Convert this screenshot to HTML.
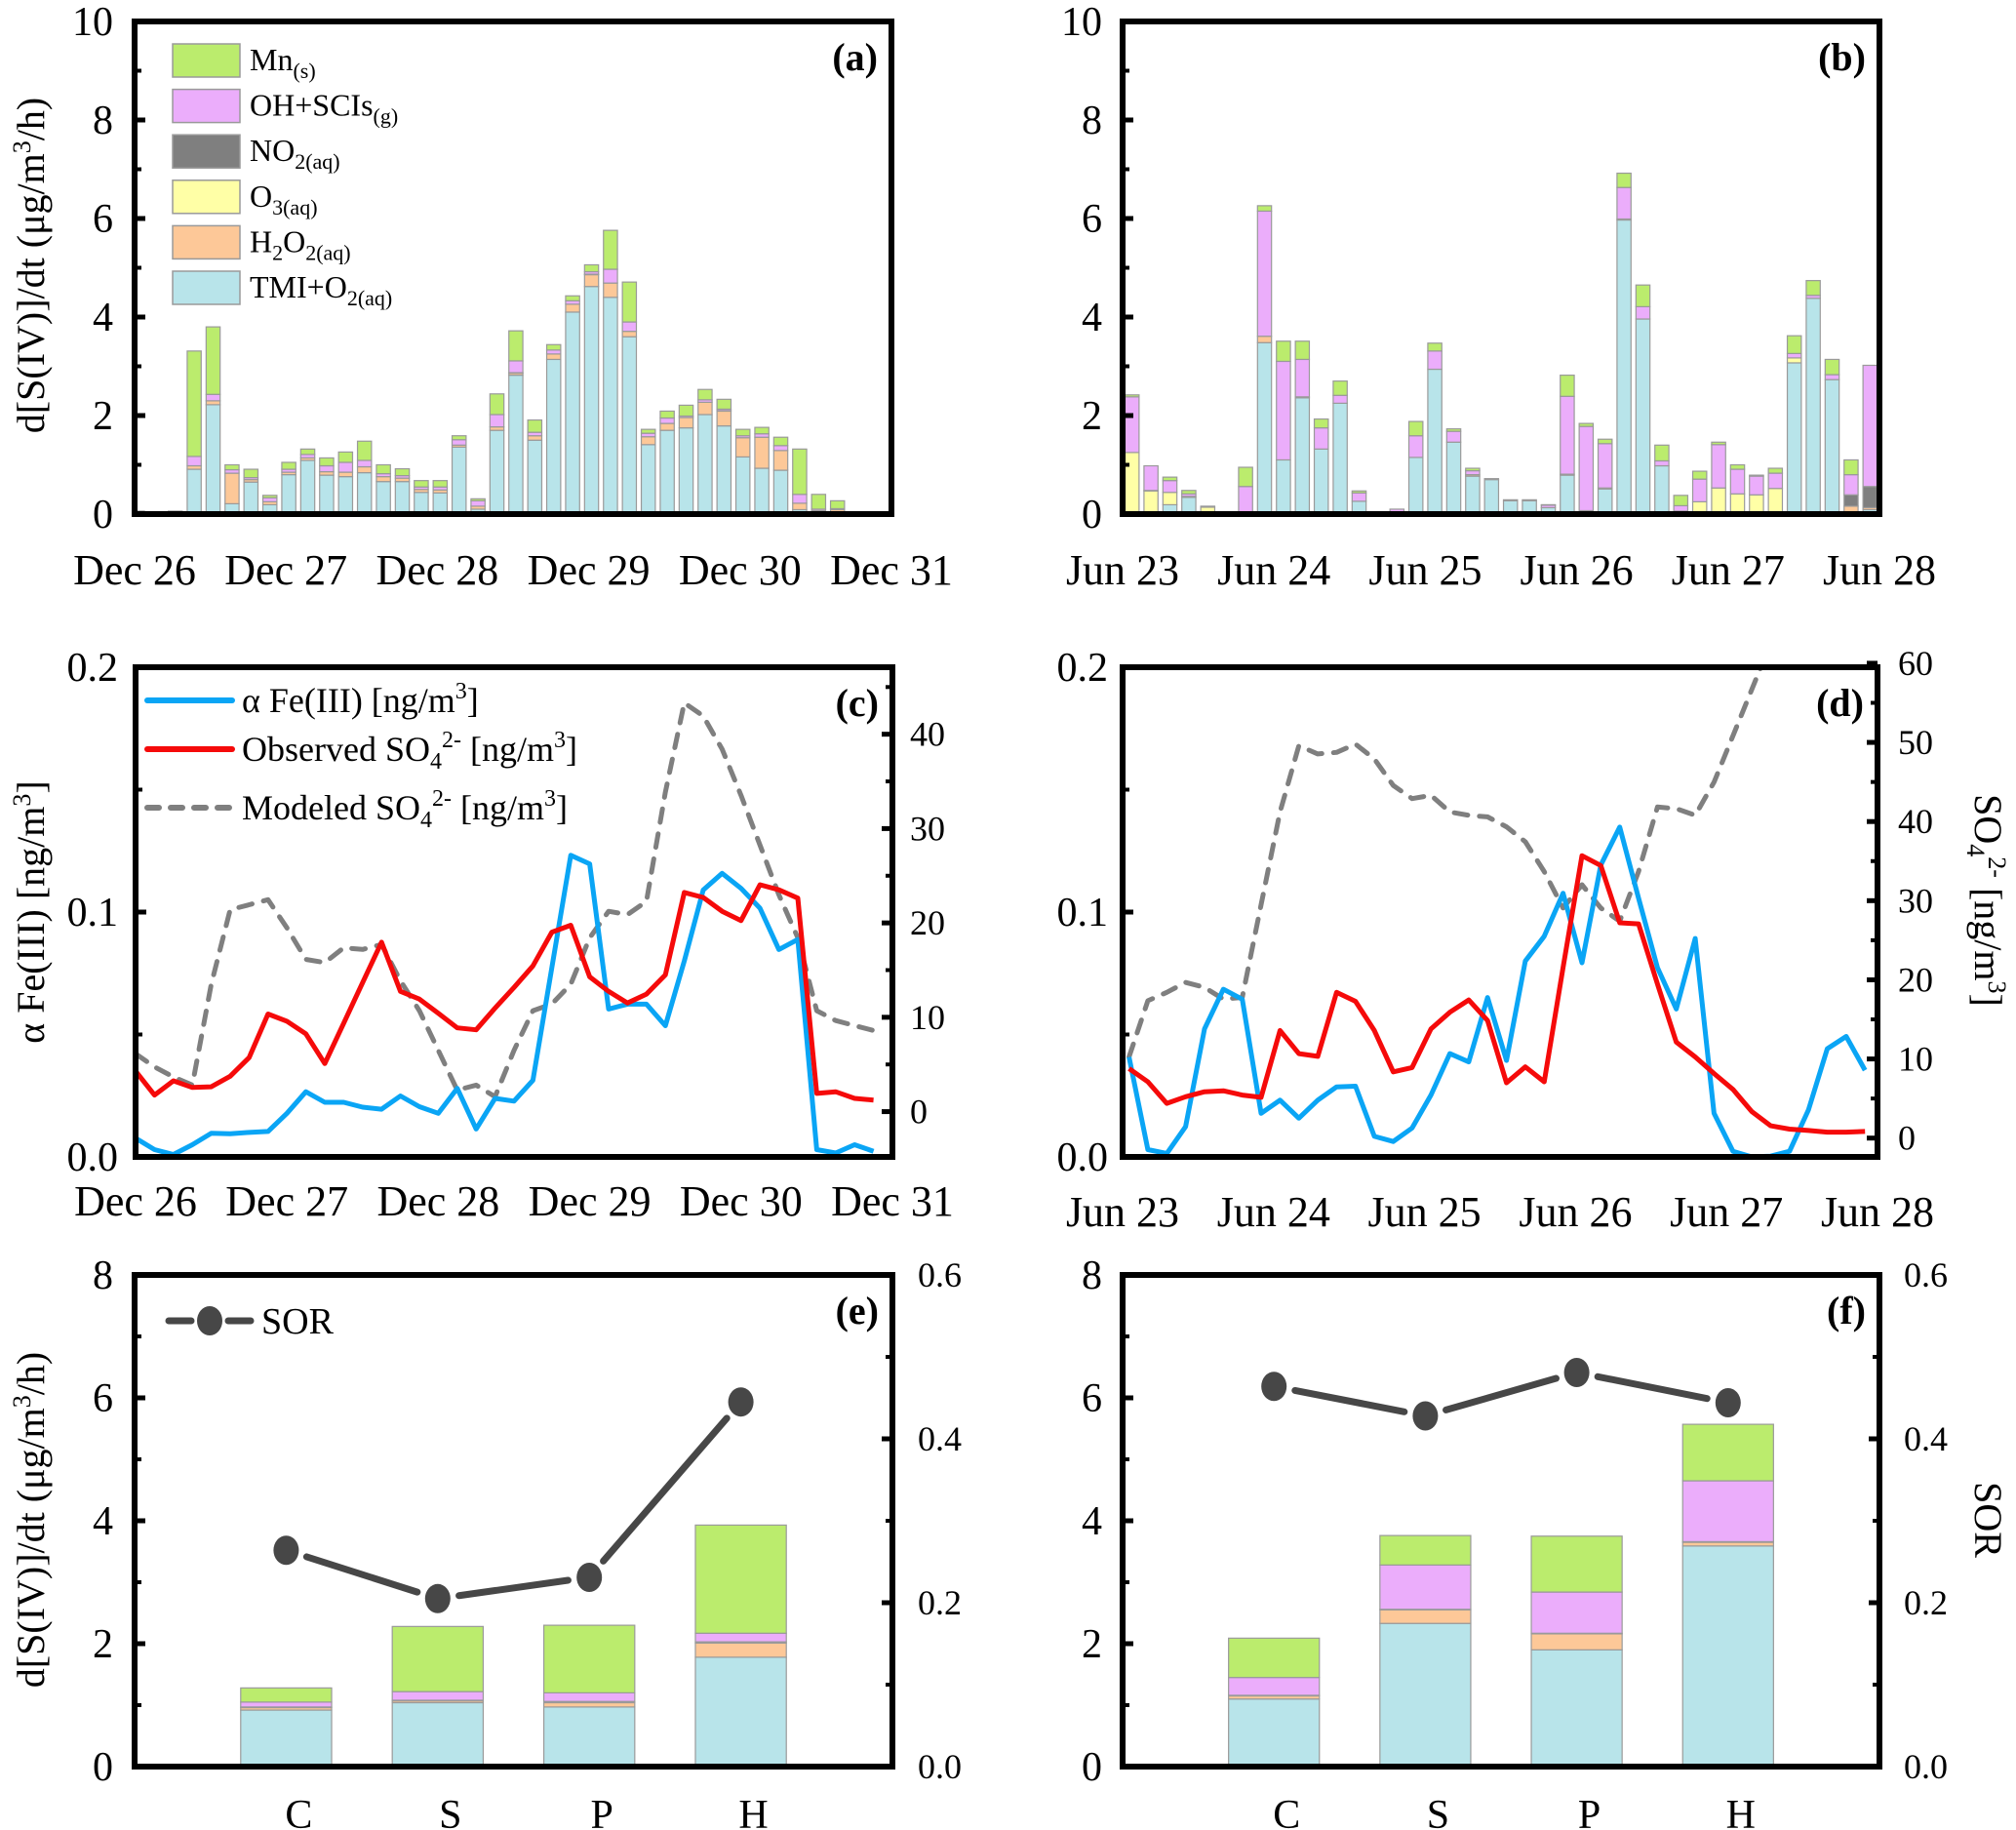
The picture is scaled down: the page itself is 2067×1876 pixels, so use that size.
<!DOCTYPE html>
<html><head><meta charset="utf-8"><style>
html,body{margin:0;padding:0;background:#fff;}
svg{display:block;font-family:"Liberation Serif",serif;}
</style></head><body>
<svg id="fig" width="2067" height="1876" viewBox="0 0 2067 1876" xmlns="http://www.w3.org/2000/svg"></svg>
<script>
// ===== Data =====
const speciesNames = ["TMI+O2(aq)","H2O2(aq)","O3(aq)","NO2(aq)","OH+SCIs(g)","Mn(s)"];
const speciesColors = ["#b8e4ea","#fdc898","#ffffa6","#7f7f7f","#ebadfb","#bbec6d"];
const decLabels = ["Dec 26","Dec 27","Dec 28","Dec 29","Dec 30","Dec 31"];
const junLabels = ["Jun 23","Jun 24","Jun 25","Jun 26","Jun 27","Jun 28"];
// panel a
const tmiA = [0.02,0.01,0.01,0.91,2.22,0.21,0.65,0.19,0.8,1.09,0.79,0.76,0.84,0.66,0.66,0.44,0.43,1.36,0.1,1.7,2.82,1.5,3.14,4.1,4.62,4.4,3.6,1.41,1.7,1.75,2.02,1.79,1.16,0.93,0.89,0.09,0.04,0.02,0.01,0.01];
const h2o2A = [0.01,0,0,0.07,0.08,0.62,0.05,0.06,0.05,0.05,0.07,0.09,0.12,0.1,0.07,0.06,0.06,0.04,0.06,0.07,0.04,0.09,0.11,0.16,0.24,0.29,0.11,0.16,0.14,0.21,0.25,0.3,0.39,0.63,0.4,0.13,0.03,0.07,0,0];
const o3A = [0,0,0,0,0,0,0,0,0,0,0,0,0,0,0,0,0,0,0,0,0,0,0,0,0,0,0,0,0,0,0,0,0,0,0,0,0,0,0,0];
const no2A = [0.01,0.01,0,0,0,0,0,0,0,0,0,0,0,0,0,0,0,0,0,0,0.01,0,0,0,0.01,0,0,0,0,0,0,0.01,0,0,0,0,0,0,0.01,0.01];
const ohA = [0.01,0.01,0.05,0.19,0.13,0.07,0.04,0.08,0.06,0.07,0.12,0.2,0.13,0.06,0.05,0.05,0.06,0.11,0.11,0.25,0.24,0.07,0.08,0.07,0.05,0.28,0.19,0.07,0.11,0.03,0.05,0.03,0.04,0.07,0.1,0.18,0.03,0.02,0,0];
const mnA = [0.01,0,0,2.14,1.37,0.1,0.17,0.05,0.14,0.11,0.16,0.21,0.39,0.18,0.14,0.13,0.13,0.08,0.04,0.42,0.61,0.25,0.11,0.1,0.14,0.79,0.81,0.08,0.14,0.22,0.21,0.2,0.13,0.13,0.17,0.92,0.3,0.16,0,0];
// panel b
const tmiB = [0,0,0.19,0.34,0,0,0,3.48,1.1,2.36,1.32,2.25,0.26,0,0,1.15,2.94,1.46,0.77,0.7,0.27,0.27,0.13,0.79,0,0.51,5.97,3.96,0.98,0.04,0,0,0,0.04,0,3.07,4.38,2.73,0.02,0.09];
const h2o2B = [0,0,0,0,0,0,0.04,0.13,0,0,0,0,0,0,0,0,0,0,0.03,0,0,0,0,0.02,0.07,0.02,0,0,0,0,0,0,0,0,0,0,0,0,0.14,0.04];
const o3B = [1.25,0.47,0.25,0,0.14,0,0,0,0,0,0,0,0,0,0,0,0,0,0,0,0,0,0,0,0,0,0,0,0,0,0.25,0.53,0.41,0.35,0.52,0.1,0,0,0,0];
const no2B = [0,0.01,0,0.02,0.02,0.02,0,0,0,0.02,0,0,0,0,0,0,0,0,0,0,0.02,0.02,0,0,0,0,0.02,0,0,0.02,0,0,0,0,0,0,0,0,0.23,0.43];
const ohB = [1.13,0.5,0.24,0.05,0,0,0.52,2.54,2.0,0.76,0.43,0.16,0.17,0.03,0.1,0.44,0.37,0.22,0.08,0.02,0,0,0.05,1.58,1.71,0.9,0.64,0.25,0.1,0.11,0.46,0.88,0.5,0.38,0.31,0.09,0.06,0.1,0.41,2.46];
const mnB = [0.04,0,0.07,0.07,0,0,0.39,0.11,0.41,0.37,0.18,0.29,0.04,0,0,0.29,0.16,0.05,0.05,0,0,0,0.01,0.43,0.06,0.09,0.29,0.44,0.32,0.21,0.16,0.05,0.09,0.02,0.1,0.36,0.3,0.31,0.3,0];
// panel c
const feC = [0.0077,0.003,0.001,0.005,0.0097,0.0095,0.010,0.0104,0.0178,0.0266,0.0223,0.0223,0.0203,0.0195,0.0249,0.0205,0.0178,0.028,0.0114,0.0239,0.0228,0.0313,0.0773,0.1232,0.1197,0.0604,0.0624,0.0624,0.0536,0.08,0.109,0.1158,0.1097,0.1016,0.0847,0.0888,0.003,0.0016,0.005,0.0023];
const obsC = [4.3,1.75,3.26,2.56,2.63,3.75,5.72,10.35,9.58,8.25,5.09,9.37,13.68,17.96,12.74,11.93,10.42,8.88,8.67,10.98,13.16,15.44,19.02,19.75,14.28,12.74,11.51,12.46,14.49,23.23,22.7,21.23,20.25,24.04,23.51,22.63,1.93,2.11,1.4,1.23];
const modC = [6.14,4.74,3.68,2.81,13.51,21.4,21.93,22.46,19.47,16.14,15.79,17.37,17.19,17.72,13.86,10.7,6.49,2.28,2.81,1.58,6.49,10.7,11.4,13.51,18.42,21.23,20.88,22.28,33.86,43.33,41.93,38.42,33.51,28.25,22.98,18.42,10.7,9.65,9.12,8.6];
// panel d
const feD = [0.0408,0.003,0.0014,0.0124,0.0523,0.0685,0.0644,0.0178,0.0232,0.0158,0.0232,0.0286,0.0289,0.0084,0.0063,0.0118,0.0253,0.0422,0.0388,0.0651,0.0394,0.08,0.0901,0.1077,0.0793,0.1192,0.1347,0.1057,0.0773,0.0604,0.0892,0.0178,0.0023,0,0.0003,0.0023,0.0192,0.0442,0.0492,0.0354];
const obsD = [8.79,7.11,4.39,5.23,5.86,5.98,5.44,5.15,13.6,10.67,10.33,18.41,17.28,13.6,8.37,8.91,13.81,15.9,17.45,14.85,6.99,9.0,7.11,21.55,35.69,34.44,27.2,27.07,19.46,12.13,10.25,8.16,6.15,3.35,1.55,1.13,0.96,0.75,0.75,0.84];
const modD = [10.25,17.36,18.41,19.67,19.04,17.57,17.78,29.5,41.21,49.58,48.54,48.74,49.79,47.91,44.56,42.89,43.31,41.21,40.79,40.59,39.33,37.45,33.68,29.08,32.01,29.08,27.41,33.68,41.84,41.63,40.79,44.98,50.84,56.69,62.55];
// panels e,f
const cats = ["C","S","P","H"];
const tmiE = [0.92,1.04,0.97,1.78], h2o2E = [0.04,0.03,0.07,0.23], o3E = [0,0,0,0], no2E = [0.01,0.01,0.02,0.02], ohE = [0.08,0.14,0.14,0.14], mnE = [0.23,1.06,1.1,1.76];
const sorE = [0.264,0.205,0.231,0.445];
const tmiF = [1.1,2.33,1.9,3.59], h2o2F = [0.05,0.22,0.26,0.06], o3F = [0,0,0,0], no2F = [0.01,0.01,0.01,0.01], ohF = [0.29,0.72,0.67,0.99], mnF = [0.64,0.48,0.91,0.92];
const sorF = [0.464,0.428,0.481,0.444];

// ===== Helpers =====
const NS = "http://www.w3.org/2000/svg";
const svg = document.getElementById("fig");
function el(tag, attrs, parent){ const e=document.createElementNS(NS,tag); for(const k in attrs) e.setAttribute(k,attrs[k]); (parent||svg).appendChild(e); return e; }
function lin(d0,d1,r0,r1){ return v => r0 + (v-d0)*(r1-r0)/(d1-d0); }

const L = {
  a:{x0:138,x1:914,y0:22,y1:527}, b:{x0:1151,x1:1927,y0:22,y1:527},
  c:{x0:139,x1:915,y0:684,y1:1186}, d:{x0:1151,x1:1925,y0:684,y1:1186},
  e:{x0:138,x1:915,y0:1307,y1:1811}, f:{x0:1151,x1:1927,y0:1307,y1:1811}
};

function frame(p, name){
  const r = el("rect",{x:p.x0,y:p.y0,width:p.x1-p.x0,height:p.y1-p.y0,fill:"none",stroke:"#000","stroke-width":6});
  
  
}
function panelLabel(p, txt){
  const t = el("text",{x:p.x1-14,y:p.y0+50,"text-anchor":"end","font-size":40,"font-weight":"bold"});
  t.textContent = txt;
  
  
}
function leftTicks(p, ys, vals, labels, minor, fmt, labX){
  const g = el("g",{});
  
  
  vals.forEach(v=>{ el("line",{x1:p.x0,x2:p.x0+11,y1:ys(v),y2:ys(v),stroke:"#000","stroke-width":5},g); });
  minor.forEach(v=>{ el("line",{x1:p.x0,x2:p.x0+7,y1:ys(v),y2:ys(v),stroke:"#000","stroke-width":4},g); });
  labels.forEach((s,i)=>{ const t=el("text",{x:labX,y:ys(vals[i])+14,"text-anchor":"end","font-size":42},g); t.textContent=s;
    
     });
}
function rightTicks(p, ys, vals, labels, minor, labX){
  const g = el("g",{});
  
  
  vals.forEach(v=>{ el("line",{x1:p.x1,x2:p.x1-11,y1:ys(v),y2:ys(v),stroke:"#000","stroke-width":5},g); });
  minor.forEach(v=>{ el("line",{x1:p.x1,x2:p.x1-7,y1:ys(v),y2:ys(v),stroke:"#000","stroke-width":4},g); });
  labels.forEach((s,i)=>{ const t=el("text",{x:labX,y:ys(vals[i])+12,"text-anchor":"start","font-size":36},g); t.textContent=s;
    
     });
}
function dayLabels(p, labels, baseY){
  labels.forEach((s,i)=>{ const x = p.x0 + i*(p.x1-p.x0)/5;
    const t=el("text",{x:x,y:baseY,"text-anchor":"middle","font-size":44}); t.textContent=s;
    
     });
}
function stackedBars(p, series, offset, ys, name){
  const n = series[0].length, step=(p.x1-p.x0)/40, w=step*0.74;
  const g = el("g",{});
  
  
  for(let i=0;i<n;i++){
    let acc=0; const cx = p.x0 + (i+offset)*step;
    series.forEach((arr,k)=>{ const v=arr[i]; if(v<=0) return;
      const yt=ys(acc+v), yb=ys(acc);
      const r=el("rect",{x:Math.max(p.x0,cx-w/2),y:yt,width:Math.min(w, cx+w/2-p.x0),height:yb-yt,fill:speciesColors[k],stroke:"#9a9a9a","stroke-width":1.2},g);
      
      
      acc+=v; });
  }
}
function linePath(p, arr, offset, ys, color, width, dash, name){
  const step=(p.x1-p.x0)/40;
  const pts = arr.map((v,i)=>[p.x0+(i+offset)*step, ys(v)]);
  const d = "M"+pts.map(q=>q[0].toFixed(1)+","+q[1].toFixed(1)).join("L");
  const a = {d:d,fill:"none",stroke:color,"stroke-width":width,"stroke-linejoin":"round","clip-path":"url(#clip-"+p.id+")"};
  if(dash){ a["stroke-dasharray"]=dash; a["stroke-linecap"]="round"; }
  const e = el("path",a);
  
  
}
const defs = el("defs",{});
for(const k in L){ L[k].id=k; const cp=el("clipPath",{id:"clip-"+k},defs); el("rect",{x:L[k].x0+3,y:L[k].y0+3,width:L[k].x1-L[k].x0-6,height:L[k].y1-L[k].y0-6},cp); }

// ===== Panel a & b =====
[["a",[tmiA,h2o2A,o3A,no2A,ohA,mnA],0.15,decLabels,116],["b",[tmiB,h2o2B,o3B,no2B,ohB,mnB],0.5,junLabels,1130]].forEach(([k,ser,off,labs,lx])=>{
  const p=L[k]; const ys=lin(0,10,p.y1,p.y0);
  stackedBars(p, ser, off, ys, "stacked-bars-"+k);
  leftTicks(p, ys, [0,2,4,6,8,10], ["0","2","4","6","8","10"], [1,3,5,7,9], null, lx);
  dayLabels(p, labs, 599);
  frame(p, "panel-"+k);
  panelLabel(p, "("+k+")");
});

// legend a
(function(){
  const rows=[[5,"Mn","(s)"],[4,"OH+SCIs","(g)"],[3,"NO","2(aq)"],[2,"O","3(aq)"],[1,"H","2O2(aq)"],[0,"TMI+O","2(aq)"]];
  const g=el("g",{});  
  rows.forEach((r,i)=>{ const y=62+i*46.6;
    const s=el("rect",{x:177,y:y-17,width:69,height:34,fill:speciesColors[r[0]],stroke:"#9a9a9a","stroke-width":1.5},g);
     
    const t=el("text",{x:256,y:y+10,"font-size":32},g);
     
    if(r[1]==="H"){ t.innerHTML='H<tspan font-size="22" dy="8">2</tspan><tspan dy="-8">O</tspan><tspan font-size="22" dy="8">2(aq)</tspan>'; }
    else { t.innerHTML=r[1]+'<tspan font-size="22" dy="8">'+r[2]+'</tspan>'; }
  });
})();

// y-titles
function rotText(x,y,html,rot,name,size){
  const t=el("text",{x:x,y:y,"text-anchor":"middle","font-size":size||40,transform:"rotate("+rot+" "+x+" "+y+")"});
  t.innerHTML=html;   }
rotText(45,272,'d[S(IV)]/dt (μg/m<tspan font-size="26" dy="-14">3</tspan><tspan dy="14">/h)</tspan>',-90,"y-axis-title-a");
rotText(45,935,'α Fe(III) [ng/m<tspan font-size="26" dy="-14">3</tspan><tspan dy="14">]</tspan>',-90,"y-axis-title-c");
rotText(45,1558,'d[S(IV)]/dt (μg/m<tspan font-size="26" dy="-14">3</tspan><tspan dy="14">/h)</tspan>',-90,"y-axis-title-e");
rotText(2025,923,'SO<tspan font-size="26" dy="8">4</tspan><tspan font-size="26" dy="-22">2-</tspan><tspan dy="14"> [ng/m</tspan><tspan font-size="26" dy="-14">3</tspan><tspan dy="14">]</tspan>',90,"y-axis-title-d");
rotText(2025,1558,'SOR',90,"y-axis-title-f");

// ===== Panel c & d =====
[["c",feC,obsC,modC,0,decLabels,1246,-4.8,47.1,[0,10,20,30,40],[-5,5,15,25,35,45],121,933],
 ["d",feD,obsD,modD,0.34,junLabels,1257,-2.38,59.5,[0,10,20,30,40,50,60],[5,15,25,35,45,55],1136,1946]].forEach(([k,fe,obs,mod,off,labs,by,rmin,rmax,rt,rmin2,lx,rx])=>{
  const p=L[k]; const ysL=lin(0,0.2,p.y1,p.y0); const ysR=lin(rmin,rmax,p.y1,p.y0);
  linePath(p, mod, off, ysR, "#7f7f7f", 5, "14 12", "modeled-so4-line-"+k);
  linePath(p, fe, off, ysL, "#0aa5f5", 5, null, "fe-line-"+k);
  linePath(p, obs, off, ysR, "#f50a0a", 5, null, "observed-so4-line-"+k);
  leftTicks(p, ysL, [0,0.1,0.2], ["0.0","0.1","0.2"], [0.05,0.15], null, lx);
  rightTicks(p, ysR, rt, rt.map(String), rmin2.filter(v=>v>rmin&&v<rmax), rx);
  dayLabels(p, labs, by);
  frame(p, "panel-"+k);
  panelLabel(p, "("+k+")");
});
// legend c
(function(){
  const g=el("g",{});  
  const items=[["#0aa5f5",null,'α Fe(III) [ng/m<tspan font-size="24" dy="-14">3</tspan><tspan dy="14">]</tspan>'],
    ["#f50a0a",null,'Observed SO<tspan font-size="24" dy="8">4</tspan><tspan font-size="24" dy="-22">2-</tspan><tspan dy="14"> [ng/m</tspan><tspan font-size="24" dy="-14">3</tspan><tspan dy="14">]</tspan>'],
    ["#7f7f7f","12 12",'Modeled SO<tspan font-size="24" dy="8">4</tspan><tspan font-size="24" dy="-22">2-</tspan><tspan dy="14"> [ng/m</tspan><tspan font-size="24" dy="-14">3</tspan><tspan dy="14">]</tspan>']];
  [718,768,828].forEach((y,i)=>{
    const a={x1:151,x2:238,y1:y,y2:y,stroke:items[i][0],"stroke-width":6,"stroke-linecap":"round"}; if(items[i][1]) a["stroke-dasharray"]=items[i][1];
    const ln=el("line",a,g);  
    const t=el("text",{x:248,y:y+12,"font-size":36},g); t.innerHTML=items[i][2];
     
  });
})();

// ===== Panel e & f =====
[["e",[tmiE,h2o2E,o3E,no2E,ohE,mnE],sorE,116,941],["f",[tmiF,h2o2F,o3F,no2F,ohF,mnF],sorF,1130,1952]].forEach(([k,ser,sor,lx,rx])=>{
  const p=L[k]; const ys=lin(0,8,p.y1,p.y0); const ysR=lin(0,0.6,p.y1,p.y0); const xs=lin(0,5,p.x0,p.x1);
  const bw=0.6*(p.x1-p.x0)/5;
  const g=el("g",{});  
  cats.forEach((c,i)=>{ let acc=0; const cx=xs(i+1);
    ser.forEach((arr,s)=>{ const v=arr[i]; if(v<=0) return;
      const r=el("rect",{x:cx-bw/2,y:ys(acc+v),width:bw,height:ys(acc)-ys(acc+v),fill:speciesColors[s],stroke:"#9a9a9a","stroke-width":1.2},g);
        acc+=v; });
    const t=el("text",{x:cx+13,y:1874,"text-anchor":"middle","font-size":42}); t.textContent=c;
     
  });
  const pts=sor.map((v,i)=>[xs(i+1),ysR(v)]);
  for(let i=0;i<pts.length-1;i++){
    const [x1,y1]=pts[i],[x2,y2]=pts[i+1]; const dx=x2-x1, dy=y2-y1, len=Math.hypot(dx,dy), g0=22/len;
    const ln=el("line",{x1:x1+dx*g0,y1:y1+dy*g0,x2:x2-dx*g0,y2:y2-dy*g0,stroke:"#474747","stroke-width":7,"stroke-linecap":"round"});
     
  }
  pts.forEach(q=>{ const c=el("ellipse",{cx:q[0],cy:q[1],rx:13,ry:15,fill:"#474747"});   });
  leftTicks(p, ys, [0,2,4,6,8], ["0","2","4","6","8"], [1,3,5,7], null, lx);
  rightTicks(p, ysR, [0,0.2,0.4,0.6], ["0.0","0.2","0.4","0.6"], [0.1,0.3,0.5], rx);
  frame(p, "panel-"+k);
  panelLabel(p, "("+k+")");
});
// legend e
(function(){
  const g=el("g",{});  
  const l1=el("line",{x1:173,x2:196,y1:1354,y2:1354,stroke:"#474747","stroke-width":7,"stroke-linecap":"round"},g);
   
  const l2=el("line",{x1:234,x2:257,y1:1354,y2:1354,stroke:"#474747","stroke-width":7,"stroke-linecap":"round"},g);
   
  const c=el("ellipse",{cx:215,cy:1354,rx:13,ry:15,fill:"#474747"},g);
   
  const t=el("text",{x:268,y:1367,"font-size":38},g); t.textContent="SOR";
   
})();
</script>
</body></html>
